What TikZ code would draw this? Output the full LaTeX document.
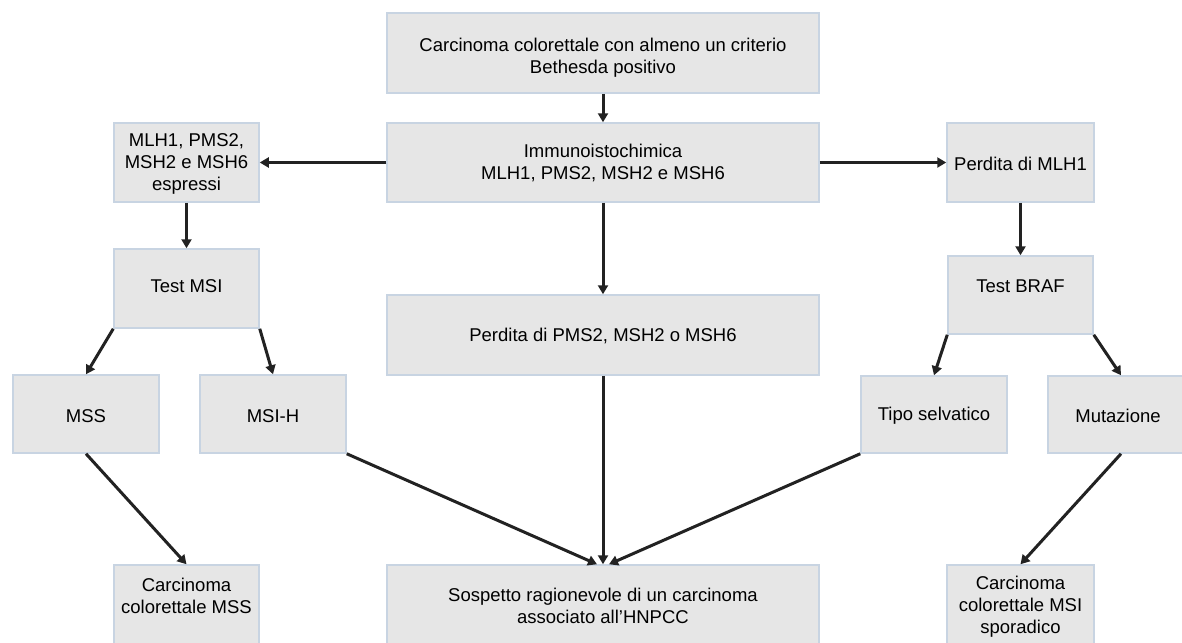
\documentclass[tikz,border=0pt]{standalone}
\usepackage{fontspec}
\setmainfont{Liberation Sans}
\usetikzlibrary{arrows.meta,calc}
\definecolor{boxfill}{HTML}{E6E6E6}
\definecolor{boxline}{HTML}{C8D4E2}
\definecolor{arrowc}{HTML}{222222}
\begin{document}
\begin{tikzpicture}[x=1pt,y=-1pt,
  bx/.style={draw=boxline, fill=boxfill, line width=1.5pt, inner sep=0pt},
  tx/.style={align=center, font=\fontsize{18.5}{22}\selectfont, inner sep=0pt},
  arr/.style={draw=arrowc, line width=3pt, -{Triangle[length=9pt,width=10pt]}}]
\useasboundingbox (0,0) rectangle (1182,642);
\clip (0,0) rectangle (1182,642);
\fill[white] (0,0) rectangle (1182,642);
% boxes
\node[bx, minimum width=432pt, minimum height=80pt] (top) at (603,53) {};
\node[bx, minimum width=432pt, minimum height=79pt] (imm) at (603,162.5) {};
\node[bx, minimum width=145pt, minimum height=79pt] (espr) at (186.5,162.5) {};
\node[bx, minimum width=147pt, minimum height=79pt] (mlh1) at (1020.5,162.5) {};
\node[bx, minimum width=145pt, minimum height=79pt] (msi) at (186.5,288.5) {};
\node[bx, minimum width=145pt, minimum height=78pt] (braf) at (1020.5,295) {};
\node[bx, minimum width=432pt, minimum height=80pt] (pms) at (603,335) {};
\node[bx, minimum width=146pt, minimum height=78pt] (mss) at (86,414) {};
\node[bx, minimum width=146pt, minimum height=78pt] (msih) at (273,414) {};
\node[bx, minimum width=146pt, minimum height=77pt] (tipo) at (934,414.5) {};
\node[bx, minimum width=146pt, minimum height=77pt] (mut) at (1121,414.5) {};
\node[bx, minimum width=145pt, minimum height=80pt] (cmss) at (186.5,605) {};
\node[bx, minimum width=432pt, minimum height=80pt] (sosp) at (603,605) {};
\node[bx, minimum width=147pt, minimum height=80pt] (cspor) at (1020.5,605) {};
% texts
\node[tx] (top-t) at (603,58) {Carcinoma colorettale con almeno un criterio\\Bethesda positivo};
\node[tx] (imm-t) at (603,163) {Immunoistochimica\\MLH1, PMS2, MSH2 e MSH6};
\node[tx] (espr-t) at (186.5,164) {MLH1, PMS2,\\MSH2 e MSH6\\espressi};
\node[tx] (mlh1-t) at (1020.5,164) {Perdita di MLH1};
\node[tx] (msi-t) at (186.5,286) {Test MSI};
\node[tx] (braf-t) at (1020.5,286) {Test BRAF};
\node[tx] (pms-t) at (603,336) {Perdita di PMS2, MSH2 o MSH6};
\node[tx] (mss-t) at (86,416) {MSS};
\node[tx] (msih-t) at (273,416) {MSI-H};
\node[tx] (tipo-t) at (934,416) {Tipo selvatico};
\node[tx] (mut-t) at (1118,416) {Mutazione};
\node[tx] (cmss-t) at (186.5,596) {Carcinoma\\colorettale MSS};
\node[tx] (sosp-t) at (603,606) {Sospetto ragionevole di un carcinoma\\associato all’HNPCC};
\node[tx] (cspor-t) at (1020.5,607) {Carcinoma\\colorettale MSI\\sporadico};
% connectors
\draw[arr] (top) -- (imm);
\draw[arr] (imm) -- (espr);
\draw[arr] (imm) -- (mlh1);
\draw[arr] (espr) -- (msi);
\draw[arr] (mlh1) -- (braf);
\draw[arr] (imm) -- (pms);
\draw[arr] (msi.south west) -- (mss.north);
\draw[arr] (msi.south east) -- (msih.north);
\draw[arr] (braf.south west) -- (tipo.north);
\draw[arr] (braf.south east) -- (mut.north);
\draw[arr] (mss.south) -- (cmss.north);
\draw[arr] (mut.south) -- (cspor.north);
\draw[arr] (msih.south east) -- ($(sosp.north)+(-6,0)$);
\draw[arr] (pms) -- (sosp);
\draw[arr] (tipo.south west) -- ($(sosp.north)+(6,0)$);
\end{tikzpicture}
\end{document}
